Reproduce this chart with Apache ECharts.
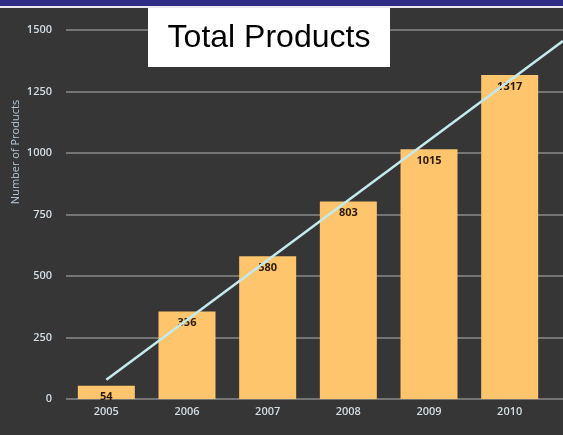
<!DOCTYPE html>
<html>
<head>
<meta charset="utf-8">
<script src="https://cdn.jsdelivr.net/npm/echarts@6/dist/echarts.min.js"></script>
<style>
  html, body { margin: 0; padding: 0; background: #363636; }
  #chart { width: 563px; height: 435px; }
</style>
</head>
<body>
<div id="chart"></div>
<script>
// Product counts per year
const years = ['2005', '2006', '2007', '2008', '2009', '2010'];
const products = [54, 356, 580, 803, 1015, 1317];
// Linear trend: start and end points, x in category units (0 = 2005)
const trendPoints = [[0, 78], [5.66, 1455]];
const yTicks = { min: 0, max: 1500, interval: 250 };

const labelColor = '#d3dde4';
const font = '"Open Sans", "Noto Sans", sans-serif';

const chart = echarts.init(document.getElementById('chart'), null, { renderer: 'canvas' });

chart.setOption({
  backgroundColor: '#363636',
  animation: false,
  grid: [
    // full-width grid: value labels, gridlines and trend line
    { left: 66, right: 0, top: 30, bottom: 36 },
    // bar grid
    { left: 66, right: 13, top: 30, bottom: 36 }
  ],
  xAxis: [
    {
      gridIndex: 0, type: 'value', min: -0.5, max: 5.661,
      show: false
    },
    {
      gridIndex: 1, type: 'category', data: years,
      axisLine: { show: false }, axisTick: { show: false },
      axisLabel: { color: labelColor, fontFamily: font, fontSize: 11, fontWeight: 600, margin: 7 }
    }
  ],
  yAxis: [
    {
      gridIndex: 0, type: 'value', min: yTicks.min, max: yTicks.max, interval: yTicks.interval,
      axisLine: { show: false }, axisTick: { show: false },
      axisLabel: {
        color: labelColor, fontFamily: font, fontSize: 11, fontWeight: 600, margin: 14,
        formatter: (v) => String(v)
      },
      splitLine: { lineStyle: { color: '#747474', width: 2 } }
    },
    {
      gridIndex: 1, type: 'value', min: yTicks.min, max: yTicks.max, interval: yTicks.interval,
      show: false, splitLine: { show: false }
    }
  ],
  series: [
    {
      type: 'bar',
      xAxisIndex: 1, yAxisIndex: 1,
      data: products,
      barWidth: 57,
      itemStyle: { color: '#fec56d' },
      label: {
        show: true, position: 'insideTop', distance: 6,
        color: '#2b1a08', fontFamily: font, fontSize: 11, fontWeight: 700
      },
      z: 2
    },
    {
      type: 'line',
      xAxisIndex: 0, yAxisIndex: 0,
      data: trendPoints,
      symbol: 'none',
      lineStyle: { color: '#c4eaee', width: 2.5 },
      z: 3
    }
  ],
  graphic: [
    // header band
    { type: 'rect', left: 0, top: 0, z: 100, shape: { width: 563, height: 6 }, style: { fill: '#2e2e85' } },
    { type: 'rect', left: 0, top: 6, z: 100, shape: { width: 563, height: 2 }, style: { fill: '#e8e8f0' } },
    // title box
    { type: 'rect', left: 148, top: 8, z: 100, shape: { width: 242, height: 59 }, style: { fill: '#ffffff' } },
    {
      type: 'text', x: 269, y: 38, z: 101,
      style: {
        text: 'Total Products', fill: '#000000',
        font: '32px "Liberation Sans", Arial, sans-serif',
        textAlign: 'center', textVerticalAlign: 'middle'
      }
    },
    // y axis name
    {
      type: 'text', x: 16, y: 152, rotation: Math.PI / 2, z: 100,
      style: {
        text: 'Number of Products', fill: '#b3c6d5',
        font: '11px "Open Sans", "Noto Sans", sans-serif',
        textAlign: 'center', textVerticalAlign: 'middle'
      }
    }
  ]
});
</script>
</body>
</html>
